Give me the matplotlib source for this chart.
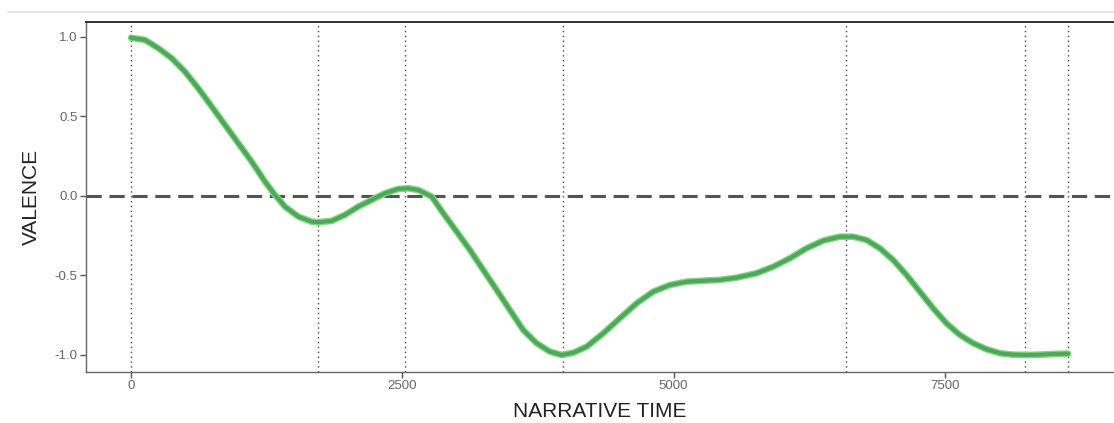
import matplotlib
matplotlib.use("Agg")
import matplotlib.pyplot as plt
from matplotlib.lines import Line2D

plt.rcParams["font.family"] = ["Liberation Sans", "DejaVu Sans"]

# Smoothed valence arc
narrative_time = [0, 129, 252, 375, 498, 620, 744, 866, 989, 1112, 1235, 1327,
                  1419, 1542, 1665, 1726, 1849, 1972, 2095, 2218, 2341, 2463,
                  2555, 2647, 2771, 2878, 3001, 3124, 3246, 3370, 3492, 3615,
                  3738, 3861, 3969, 4076, 4199, 4352, 4506, 4660, 4813, 4967,
                  5121, 5274, 5428, 5581, 5766, 5919, 6073, 6227, 6380, 6533,
                  6656, 6779, 6902, 7025, 7148, 7271, 7393, 7516, 7639, 7762,
                  7885, 8008, 8130, 8254, 8376, 8499, 8637]
valence = [0.995, 0.981, 0.929, 0.866, 0.781, 0.677, 0.562, 0.447, 0.331,
           0.216, 0.09, 0.006, -0.067, -0.130, -0.162, -0.165, -0.157, -0.119,
           -0.067, -0.025, 0.017, 0.044, 0.048, 0.038, -0.004, -0.109, -0.224,
           -0.340, -0.465, -0.591, -0.717, -0.843, -0.926, -0.979, -1.0,
           -0.986, -0.948, -0.864, -0.769, -0.675, -0.602, -0.560, -0.539,
           -0.533, -0.528, -0.514, -0.486, -0.445, -0.392, -0.329, -0.281,
           -0.256, -0.256, -0.277, -0.329, -0.403, -0.497, -0.602, -0.706,
           -0.801, -0.874, -0.926, -0.964, -0.989, -0.998, -1.0, -0.998,
           -0.994, -0.992]

# turning points marked with vertical dotted lines
turning_points = [0, 1723, 2525, 3981, 6589, 8238, 8634]

x_ticks = [0, 2500, 5000, 7500]
y_ticks = [-1.0, -0.5, 0.0, 0.5, 1.0]

fig = plt.figure(figsize=(11.14, 4.23), dpi=100)
ax = fig.add_axes([0.0772, 0.1206, 0.9228, 0.8274])

# vertical guide lines
for t in turning_points:
    ax.axvline(t, color="#444444", linestyle=(0, (1, 2.5)), linewidth=1.0, zorder=1)

# zero line
ax.axhline(0, color="#555555", linestyle=(0, (5, 2.5)), linewidth=2.2, zorder=2)

# the arc: light rim plus darker core
ax.plot(narrative_time, valence, color="#78db78", linewidth=4.8,
        solid_capstyle="round", solid_joinstyle="round", zorder=3)
ax.plot(narrative_time, valence, color="#51a55f", linewidth=2.9,
        solid_capstyle="round", solid_joinstyle="round", zorder=4)

ax.set_xlim(-415, 9060)
ax.set_ylim(-1.107, 1.094)
ax.set_xticks(x_ticks)
ax.set_xticklabels([str(v) for v in x_ticks])
ax.set_yticks(y_ticks)
ax.set_yticklabels([f"{v:.1f}" for v in y_ticks])
ax.tick_params(axis="both", direction="out", length=4, width=1,
               color="#555555", labelcolor="#666666", labelsize=9.5, pad=2)

ax.set_xlabel("NARRATIVE TIME", fontsize=15, color="#222222", labelpad=7)
ax.set_ylabel("VALENCE", fontsize=15, color="#222222", labelpad=10)

ax.spines["right"].set_visible(False)
ax.spines["top"].set_color("#222222")
ax.spines["top"].set_linewidth(1.3)
for side in ["left", "bottom"]:
    ax.spines[side].set_color("#666666")
    ax.spines[side].set_linewidth(1.0)

# faint border line of the screenshot above the panel
fig.add_artist(Line2D([0.007, 1.0], [0.972, 0.972], transform=fig.transFigure,
                      color="#e2e2e2", linewidth=1.2))

fig.savefig("out.png", dpi=100)
